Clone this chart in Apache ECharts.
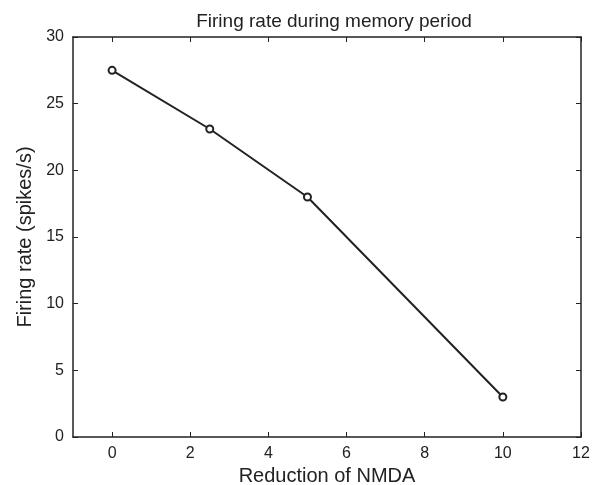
<!DOCTYPE html>
<html>
<head>
<meta charset="utf-8">
<script src="https://cdn.jsdelivr.net/npm/echarts@6/dist/echarts.min.js"></script>
<style>html,body{margin:0;padding:0;background:#fff;}#c{width:600px;height:485px;}</style>
</head>
<body>
<div id="c"></div>
<script>
const reduction = [0, 2.5, 5, 10];
const firingRate = [27.5, 23.1, 18.0, 3.0];
const xTicks = [0, 2, 4, 6, 8, 10, 12];
const yTicks = [0, 5, 10, 15, 20, 25, 30];

const chart = echarts.init(document.getElementById('c'), null, {renderer: 'canvas'});
const font = 'Liberation Sans, Arial, Helvetica, sans-serif';
const ink = '#222';
const lineStyle = {color: ink, width: 1.5};
function xAxisCfg(pos, showLabels) {
  return {
    type: 'value', position: pos, min: -1, max: 12,
    axisLine: {show: true, onZero: false, lineStyle: lineStyle},
    axisTick: {show: true, inside: true, length: 5, customValues: xTicks, lineStyle: {color: ink, width: 1}},
    axisLabel: {show: showLabels, customValues: xTicks, color: ink, fontSize: 16, fontFamily: font, margin: 9},
    splitLine: {show: false},
    name: showLabels ? 'Reduction of NMDA' : '', nameLocation: 'middle', nameGap: 28,
    nameTextStyle: {color: ink, fontSize: 20, fontFamily: font}
  };
}
function yAxisCfg(pos, showLabels) {
  return {
    type: 'value', position: pos, min: 0, max: 30,
    axisLine: {show: true, onZero: false, lineStyle: lineStyle},
    axisTick: {show: true, inside: true, length: 5, customValues: yTicks, lineStyle: {color: ink, width: 1}},
    axisLabel: {show: showLabels, customValues: yTicks, color: ink, fontSize: 16, fontFamily: font, margin: 9},
    splitLine: {show: false},
    name: showLabels ? 'Firing rate (spikes/s)' : '', nameLocation: 'middle', nameGap: 37,
    nameTextStyle: {color: ink, fontSize: 20, fontFamily: font}
  };
}
chart.setOption({
  backgroundColor: '#fff',
  animation: false,
  title: {
    text: 'Firing rate during memory period', left: 329, top: 7, textAlign: 'center',
    textStyle: {color: ink, fontSize: 19, fontWeight: 'normal', fontFamily: font}
  },
  grid: {left: 73, right: 19, top: 37, bottom: 48, containLabel: false, outerBoundsMode: 'none'},
  xAxis: [xAxisCfg('bottom', true), xAxisCfg('top', false)],
  yAxis: [yAxisCfg('left', true), yAxisCfg('right', false)],
  series: [{
    type: 'line',
    data: reduction.map((x, i) => [x, firingRate[i]]),
    lineStyle: {color: ink, width: 2},
    symbol: 'circle', symbolSize: 7,
    itemStyle: {color: '#fff', borderColor: ink, borderWidth: 2},
    showAllSymbol: true
  }]
});
</script>
</body>
</html>
